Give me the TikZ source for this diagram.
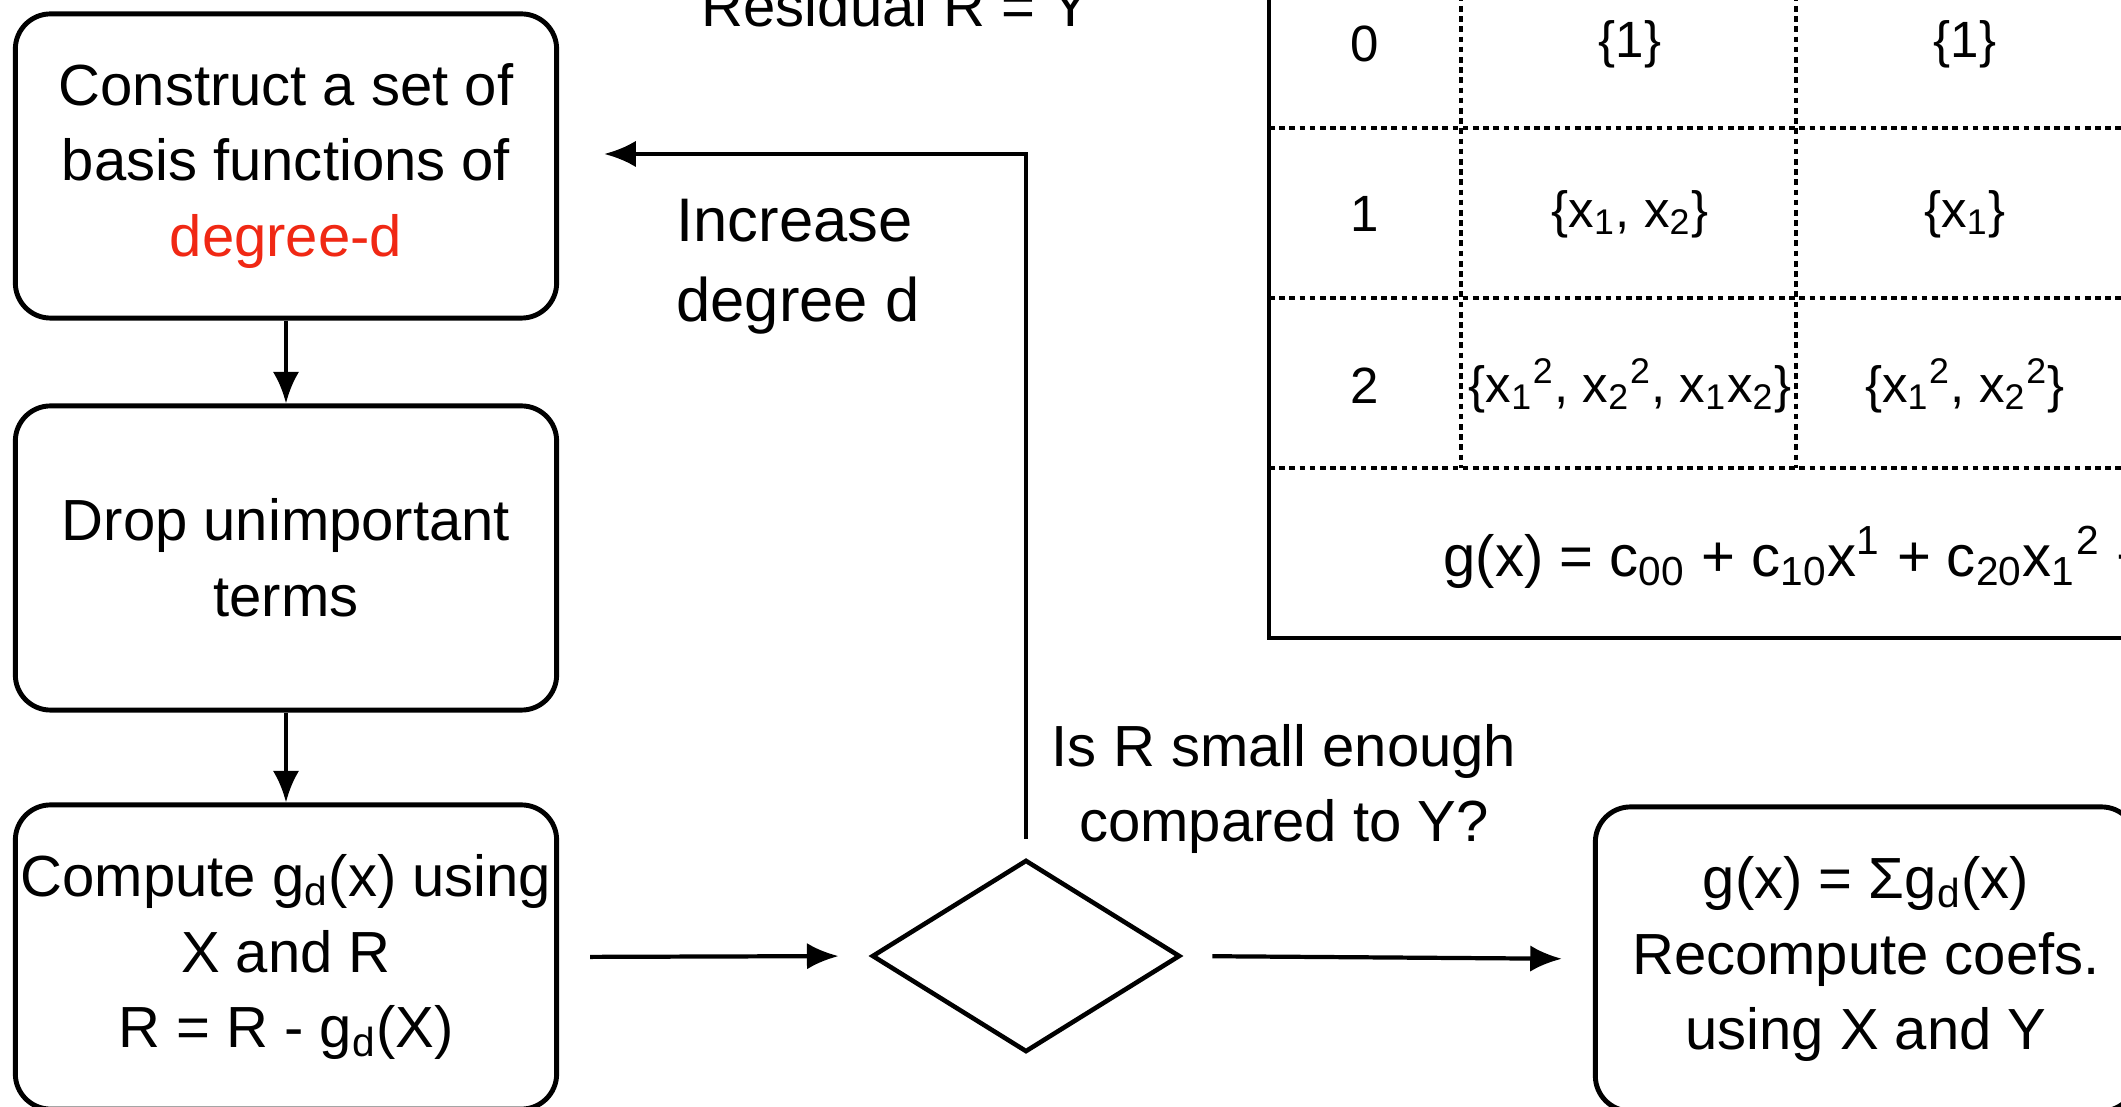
\documentclass[tikz,border=0pt]{standalone}
\usepackage{fontspec}
\setmainfont{Liberation Sans}
\usetikzlibrary{shapes.geometric,arrows.meta}
\definecolor{degred}{RGB}{240,40,20}

\begin{document}
\begin{tikzpicture}[x=0.01cm,y=-0.01cm,
  every node/.style={font=\fontsize{16.5}{21.5}\selectfont},
  stepbox/.style={draw,line width=1.4pt,rounded corners=10pt,minimum width=5.41cm,
    minimum height=3.04cm,align=center,inner sep=0pt},
  flow/.style={line width=1.2pt,-{Latex[length=9pt,width=7.5pt]}},
  cellrule/.style={line width=0.9pt,dash pattern=on 1.6pt off 1.3pt},
  cell/.style={font=\fontsize{14.5}{17}\selectfont}]
  \clip (0,0) rectangle (2121,1107);
  \fill[white] (0,0) rectangle (2121,1107);

  % flow chart
  \node[stepbox] (basis) at (286,166) {Construct a set of\\basis functions of\\\textcolor{degred}{degree-d}};
  \node[stepbox] (drop) at (286,558) {Drop unimportant\\terms};
  \node[stepbox] (compute) at (286,957) {Compute g\textsubscript{d}(x) using\\X and R\\R = R - g\textsubscript{d}(X)};
  \node[draw,diamond,line width=1.3pt,minimum width=3.08cm,minimum height=1.92cm,inner sep=0pt] (check) at (1026,956) {};
  \node[stepbox] (result) at (1866,959) {g(x) = Σg\textsubscript{d}(x)\\Recompute coefs.\\using X and Y};

  \draw[flow] (basis.south) -- (drop.north);
  \draw[flow] (drop.south) -- (compute.north);
  \draw[flow,shorten <=0.31cm,shorten >=0.31cm] (compute.east) -- (check.west);
  \draw[flow,shorten <=0.3cm,shorten >=0.31cm] (check.east) -- (result.west);
  \draw[flow] ([yshift=0.19cm]check.north) |- ([xshift=0.45cm,yshift=0.12cm]basis.east);

  \node[anchor=west,align=left,font=\fontsize{17.5}{22.7}\selectfont] (incr) at (664,267) {Increase\\degree d};
  \node[align=center] (small) at (1284,789) {Is R small enough\\compared to Y?};
  \node[anchor=base] (resid) at (896,27) {Residual R = Y};

  % table of basis terms
  \draw[line width=1pt] (1269,-300) rectangle (2400,638);
  \foreach \y in {128,298,468}
    \draw[cellrule] (1269,\y) -- (2400,\y);
  \foreach \x in {1461,1796}
    \draw[cellrule] (\x,-300) -- (\x,468);

  \node[cell] (d0) at (1365,44) {0};
  \node[cell] (a0) at (1630,44) {\{1\}};
  \node[cell] (b0) at (1965,44) {\{1\}};
  \node[cell] (d1) at (1365,214) {1};
  \node[cell] (a1) at (1630,214) {\{x\textsubscript{1}, x\textsubscript{2}\}};
  \node[cell] (b1) at (1965,214) {\{x\textsubscript{1}\}};
  \node[cell] (d2) at (1365,386) {2};
  \node[cell] (a2) at (1630,386) {\{x\textsubscript{1}\textsuperscript{2}, x\textsubscript{2}\textsuperscript{2}, x\textsubscript{1}x\textsubscript{2}\}};
  \node[cell] (b2) at (1965,386) {\{x\textsubscript{1}\textsuperscript{2}, x\textsubscript{2}\textsuperscript{2}\}};
  \node[anchor=west] (gsum) at (1431,557) {g(x) = c\textsubscript{00} + c\textsubscript{10}x\textsuperscript{1} + c\textsubscript{20}x\textsubscript{1}\textsuperscript{2} +};
\end{tikzpicture}
\end{document}
